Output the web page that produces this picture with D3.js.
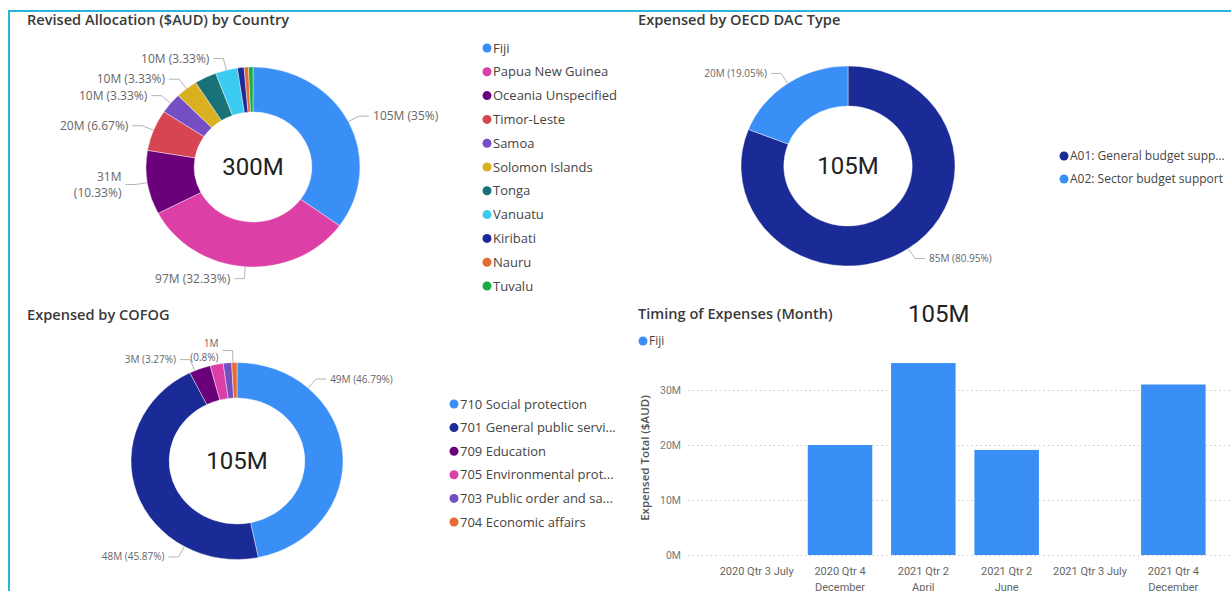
<!DOCTYPE html>
<html>
    <head>
        <title>Fiji Budget Support Dashboard</title>
        <style>
            body, html {
              margin: 0;
              padding: 0;
              background: #fff;
            }
            text {
              font-family: "Open Sans", "Noto Sans", sans-serif;
            }
            .title {
              font-size: 14.6px;
              font-weight: 600;
              fill: #3a3a3a;
            }
            .big {
              font-family: Roboto, sans-serif;
              font-size: 24px;
              fill: #222;
            }
            .lbl {
              fill: #666;
            }
            .legend {
              fill: #444;
            }
            .leader {
              fill: none;
              stroke: #b4b4b4;
              stroke-width: 1;
            }
        </style>
    </head>
    <body>

        <svg id="svg" width="1231" height="591"></svg>

        <script src="https://d3js.org/d3.v7.min.js"></script>
        <script>
            // Revised allocation by country ($M)
            const countryNames = ['Fiji', 'Papua New Guinea', 'Oceania Unspecified', 'Timor-Leste', 'Samoa',
                'Solomon Islands', 'Tonga', 'Vanuatu', 'Kiribati', 'Nauru', 'Tuvalu']
            const countryValues = [105, 97, 31, 20, 10, 10, 10, 10, 3, 2, 2]
            const countryColors = ['#3a8ff7', '#dc3fa6', '#6b007b', '#d64550', '#744ec2',
                '#d9b01f', '#197278', '#3ccbf0', '#1a2a96', '#e66c37', '#1aab40']
            const countryLabelled = ['Fiji', 'Papua New Guinea', 'Oceania Unspecified', 'Timor-Leste',
                'Samoa', 'Solomon Islands', 'Vanuatu']
            const countryWrapped = ['Oceania Unspecified']

            // Expensed by OECD DAC type ($M)
            const dacNames = ['A01: General budget support', 'A02: Sector budget support']
            const dacLegend = ['A01: General budget supp...', 'A02: Sector budget support']
            const dacValues = [85, 20]
            const dacColors = ['#1a2a96', '#3a8ff7']

            // Expensed by COFOG ($M)
            const cofogNames = ['710 Social protection', '701 General public services', '709 Education',
                '705 Environmental protection', '703 Public order and safety', '704 Economic affairs']
            const cofogLegend = ['710 Social protection', '701 General public servi...', '709 Education',
                '705 Environmental prot...', '703 Public order and sa...', '704 Economic affairs']
            const cofogValues = [49.0, 48.04, 3.42, 2.09, 1.33, 0.84]
            const cofogColors = ['#3a8ff7', '#1a2a96', '#6b007b', '#dc3fa6', '#744ec2', '#e66c37']
            const cofogLabelled = ['710 Social protection', '701 General public services', '709 Education',
                '704 Economic affairs']
            const cofogWrapped = ['704 Economic affairs']

            // Timing of expenses (month), Fiji ($M)
            const months = ['2020 Qtr 3 July', '2020 Qtr 4 December', '2021 Qtr 2 April',
                '2021 Qtr 2 June', '2021 Qtr 3 July', '2021 Qtr 4 December']
            const monthTicks = [['2020 Qtr 3 July'], ['2020 Qtr 4', 'December'], ['2021 Qtr 2', 'April'],
                ['2021 Qtr 2', 'June'], ['2021 Qtr 3 July'], ['2021 Qtr 4', 'December']]
            const monthValues = [0, 20, 34.9, 19.1, 0, 31]
            const yTicks = [0, 10, 20, 30]

            const svg = d3.select('#svg')

            // dashboard frame
            svg.append('line').attr('x1', 9).attr('x2', 1231).attr('y1', 11).attr('y2', 11)
                .attr('stroke', '#2bb5d8').attr('stroke-width', 2)
            svg.append('line').attr('x1', 9).attr('x2', 9).attr('y1', 10).attr('y2', 591)
                .attr('stroke', '#2bb5d8').attr('stroke-width', 2)

            const fmtM = v => Math.round(v) + 'M'
            const fmtPct = p => (+p.toFixed(2)) + '%'

            function title(x, y, txt) {
                svg.append('text').attr('class', 'title')
                    .attr('x', x).attr('y', y).attr('dy', '0.35em').text(txt)
            }

            function legend(x, y, step, labels, colors, size) {
                const g = svg.append('g').attr('transform', `translate(${x}, ${y})`)
                const row = g.selectAll('g').data(labels).enter().append('g')
                    .attr('transform', (d, i) => `translate(0, ${i * step})`)
                row.append('circle').attr('r', 4.5).attr('fill', (d, i) => colors[i])
                row.append('text').attr('class', 'legend')
                    .attr('x', 6).attr('dy', '0.35em')
                    .style('font-size', size + 'px')
                    .text(d => d)
            }

            // opts: cx, cy, rx, ry, inner, names, values, colors, labelled, wrapped, labelAt, fontSize
            function donut(o) {
                const total = d3.sum(o.values)
                const data = o.names.map((n, i) => ({ name: n, value: o.values[i], color: o.colors[i] }))
                const pie = d3.pie().sort(null).value(d => d.value)
                const arcs = pie(data)
                const arc = d3.arc().innerRadius(o.ry * o.inner).outerRadius(o.ry)

                svg.append('g')
                    .attr('transform', `translate(${o.cx}, ${o.cy}) scale(${o.rx / o.ry}, 1)`)
                    .selectAll('path')
                    .data(arcs)
                    .enter()
                    .append('path')
                    .attr('d', arc)
                    .attr('fill', d => d.data.color)
                    .attr('stroke', '#fff')
                    .attr('stroke-width', 0.4)

                svg.append('text').attr('class', 'big')
                    .attr('x', o.cx).attr('y', o.cy).attr('dy', '0.35em')
                    .attr('text-anchor', 'middle')
                    .text(fmtM(total))

                const ext = 12
                const lab = svg.append('g')
                arcs.filter(d => o.labelled.includes(d.data.name)).forEach(d => {
                    const a = d.startAngle + (d.endAngle - d.startAngle) * o.labelAt
                    const s = Math.sin(a), c = Math.cos(a)
                    const p0 = [o.cx + o.rx * s, o.cy - o.ry * c]
                    const p1 = [o.cx + (o.rx + ext) * s, o.cy - (o.ry + ext) * c]
                    const side = s >= 0 ? 1 : -1
                    const p2 = [p1[0] + side * 10, p1[1]]
                    lab.append('polyline').attr('class', 'leader')
                        .attr('points', [p0, p1, p2].map(p => p.join(',')).join(' '))

                    const valTxt = fmtM(d.value)
                    const pctTxt = '(' + fmtPct(d.value / total * 100) + ')'
                    const lines = o.wrapped.includes(d.data.name) ? [valTxt, pctTxt] : [valTxt + ' ' + pctTxt]
                    const lh = o.fontSize * 1.35
                    const t = lab.append('text').attr('class', 'lbl')
                        .attr('x', p2[0] + side * 4)
                        .attr('y', p2[1] - (lines.length - 1) * lh / 2)
                        .attr('text-anchor', side > 0 ? 'start' : 'end')
                        .style('font-size', o.fontSize + 'px')
                    lines.forEach((l, i) => {
                        t.append('tspan').attr('x', p2[0] + side * 4)
                            .attr('dy', i === 0 ? '0.35em' : lh).text(l)
                    })
                })
            }

            // ---- top-left: country
            title(27, 20, 'Revised Allocation ($AUD) by Country')
            donut({ cx: 253, cy: 167, rx: 107, ry: 100, inner: 0.55,
                names: countryNames, values: countryValues, colors: countryColors,
                labelled: countryLabelled, wrapped: countryWrapped, labelAt: 0.5, fontSize: 12 })
            legend(487, 48, 23.8, countryNames, countryColors, 13)

            // ---- top-right: OECD DAC
            title(638, 20, 'Expensed by OECD DAC Type')
            donut({ cx: 848, cy: 166, rx: 107, ry: 100, inner: 0.6,
                names: dacNames, values: dacValues, colors: dacColors,
                labelled: dacNames, wrapped: [], labelAt: 0.5, fontSize: 10 })
            legend(1064, 156, 23, dacLegend, dacColors, 12)

            // ---- bottom-left: COFOG
            title(27, 315, 'Expensed by COFOG')
            donut({ cx: 237, cy: 461, rx: 106, ry: 98.5, inner: 0.64,
                names: cofogNames, values: cofogValues, colors: cofogColors,
                labelled: cofogLabelled, wrapped: cofogWrapped, labelAt: 0.25, fontSize: 10 })
            legend(454, 404, 23.6, cofogLegend, cofogColors, 13)

            // ---- bottom-right: timing bar chart
            title(638, 314, 'Timing of Expenses (Month)')
            svg.append('text').attr('class', 'big')
                .attr('x', 908).attr('y', 314).attr('dy', '0.35em')
                .text(fmtM(d3.sum(monthValues)))
            legend(643, 341, 20, ['Fiji'], ['#3a8ff7'], 12)

            const xscale = d3.scaleBand()
                .domain(months)
                .range([715, 1215])
                .paddingInner(0.226)
                .paddingOuter(0.113)

            const yscale = d3.scaleLinear()
                .domain([0, 40])
                .range([555, 335])

            const leftAxis = d3.axisLeft(yscale)
                .tickValues(yTicks)
                .tickFormat(d => d + 'M')
                .tickSize(-(1231 - 688))
                .tickPadding(7)
            const yAxisG = svg.append('g')
                .attr('transform', `translate(688, 0)`)
                .call(leftAxis)
            yAxisG.select('.domain').remove()
            yAxisG.selectAll('.tick line')
                .attr('stroke', '#c8c8c8')
                .attr('stroke-dasharray', '1.5,3')
            yAxisG.selectAll('.tick text')
                .attr('fill', '#777')
                .style('font-size', '10.5px')
                .style('font-family', 'Roboto, sans-serif')

            svg.append('g')
                .selectAll('rect')
                .data(months)
                .enter()
                .append('rect')
                .attr('x', d => xscale(d))
                .attr('y', (d, i) => yscale(monthValues[i]))
                .attr('width', xscale.bandwidth())
                .attr('height', (d, i) => yscale(0) - yscale(monthValues[i]))
                .attr('fill', '#3a8ff7')

            const bottomAxis = d3.axisBottom(xscale).tickSize(0).tickFormat('')
            const xAxisG = svg.append('g')
                .attr('transform', `translate(0, 555)`)
                .call(bottomAxis)
            xAxisG.select('.domain').remove()
            xAxisG.selectAll('.tick').each(function (d, i) {
                const t = d3.select(this).append('text')
                    .attr('y', 20)
                    .attr('text-anchor', 'middle')
                    .attr('fill', '#666')
                    .style('font-size', '11px')
                    .style('font-family', 'Roboto, sans-serif')
                monthTicks[i].forEach((l, j) => {
                    t.append('tspan').attr('x', 0).attr('dy', j === 0 ? 0 : 15.5).text(l)
                })
            })

            svg.append('text')
                .attr('transform', 'translate(645, 458) rotate(-90)')
                .attr('text-anchor', 'middle')
                .attr('dy', '0.35em')
                .attr('fill', '#555')
                .style('font-size', '11.5px')
                .style('font-weight', 600)
                .text('Expensed Total ($AUD)')
        </script>
    </body>
</html>
